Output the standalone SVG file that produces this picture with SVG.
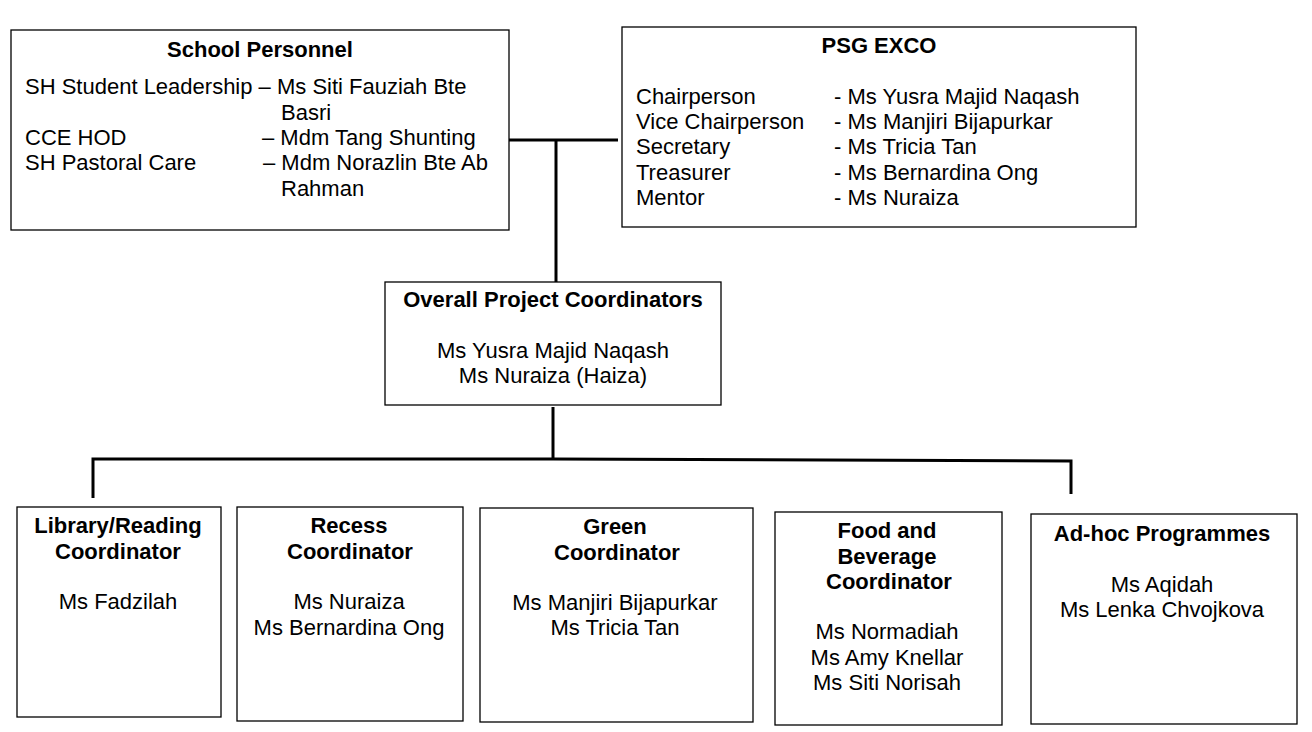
<svg xmlns="http://www.w3.org/2000/svg" width="1312" height="732" viewBox="0 0 1312 732">
<style>
.box{fill:#fff;stroke:#000;stroke-width:1.3}
.t{font-family:"Liberation Sans",Arial,sans-serif;font-size:22px;fill:#000}
.b{font-weight:bold}
.c{text-anchor:middle}
.ln{stroke:#000;stroke-width:3;fill:none}
</style>
<rect width="1312" height="732" fill="#fff"/>
<g id="connectors">
<line class="ln" x1="489" y1="140" x2="618" y2="140"/>
<line class="ln" x1="556" y1="140" x2="556" y2="283"/>
<line class="ln" x1="553" y1="407" x2="553" y2="460"/>
<polyline class="ln" points="93,498 93,459 553,459 1071,461 1071,494"/>
</g>
<g id="school-personnel">
<rect class="box" x="11" y="30" width="498" height="200"/>
<text class="t b c" x="260" y="57">School Personnel</text>
<text class="t" x="25" y="94">SH Student Leadership – Ms Siti Fauziah Bte</text>
<text class="t" x="281" y="120">Basri</text>
<text class="t" x="25" y="145">CCE HOD</text>
<text class="t" x="262" y="145">– Mdm Tang Shunting</text>
<text class="t" x="25" y="170">SH Pastoral Care</text>
<text class="t" x="263" y="170">– Mdm Norazlin Bte Ab</text>
<text class="t" x="281" y="196">Rahman</text>
</g>
<g id="psg-exco">
<rect class="box" x="622" y="27" width="514" height="200"/>
<text class="t b c" x="879" y="53">PSG EXCO</text>
<text class="t" x="636" y="104">Chairperson</text>
<text class="t" x="834" y="104">- Ms Yusra Majid Naqash</text>
<text class="t" x="636" y="129">Vice Chairperson</text>
<text class="t" x="834" y="129">- Ms Manjiri Bijapurkar</text>
<text class="t" x="636" y="154">Secretary</text>
<text class="t" x="834" y="154">- Ms Tricia Tan</text>
<text class="t" x="636" y="180">Treasurer</text>
<text class="t" x="834" y="180">- Ms Bernardina Ong</text>
<text class="t" x="636" y="205">Mentor</text>
<text class="t" x="834" y="205">- Ms Nuraiza</text>
</g>
<g id="overall">
<rect class="box" x="385" y="282" width="336" height="123"/>
<text class="t b c" x="553" y="307">Overall Project Coordinators</text>
<text class="t c" x="553" y="358">Ms Yusra Majid Naqash</text>
<text class="t c" x="553" y="383">Ms Nuraiza (Haiza)</text>
</g>
<g id="library">
<rect class="box" x="17" y="507" width="204" height="210"/>
<text class="t b c" x="118" y="533">Library/Reading</text>
<text class="t b c" x="118" y="559">Coordinator</text>
<text class="t c" x="118" y="609">Ms Fadzilah</text>
</g>
<g id="recess">
<rect class="box" x="237" y="507" width="226" height="214"/>
<text class="t b c" x="349" y="533">Recess</text>
<text class="t b c" x="350" y="559">Coordinator</text>
<text class="t c" x="349" y="609">Ms Nuraiza</text>
<text class="t c" x="349" y="635">Ms Bernardina Ong</text>
</g>
<g id="green">
<rect class="box" x="480" y="508" width="273" height="214"/>
<text class="t b c" x="615" y="534">Green</text>
<text class="t b c" x="617" y="560">Coordinator</text>
<text class="t c" x="615" y="610">Ms Manjiri Bijapurkar</text>
<text class="t c" x="615" y="635">Ms Tricia Tan</text>
</g>
<g id="food">
<rect class="box" x="775" y="512" width="227" height="213"/>
<text class="t b c" x="887" y="538">Food and</text>
<text class="t b c" x="887" y="564">Beverage</text>
<text class="t b c" x="889" y="589">Coordinator</text>
<text class="t c" x="887" y="639">Ms Normadiah</text>
<text class="t c" x="887" y="665">Ms Amy Knellar</text>
<text class="t c" x="887" y="690">Ms Siti Norisah</text>
</g>
<g id="adhoc">
<rect class="box" x="1031" y="514" width="266" height="210"/>
<text class="t b c" x="1162" y="541">Ad-hoc Programmes</text>
<text class="t c" x="1162" y="592">Ms Aqidah</text>
<text class="t c" x="1162" y="617">Ms Lenka Chvojkova</text>
</g>
</svg>
